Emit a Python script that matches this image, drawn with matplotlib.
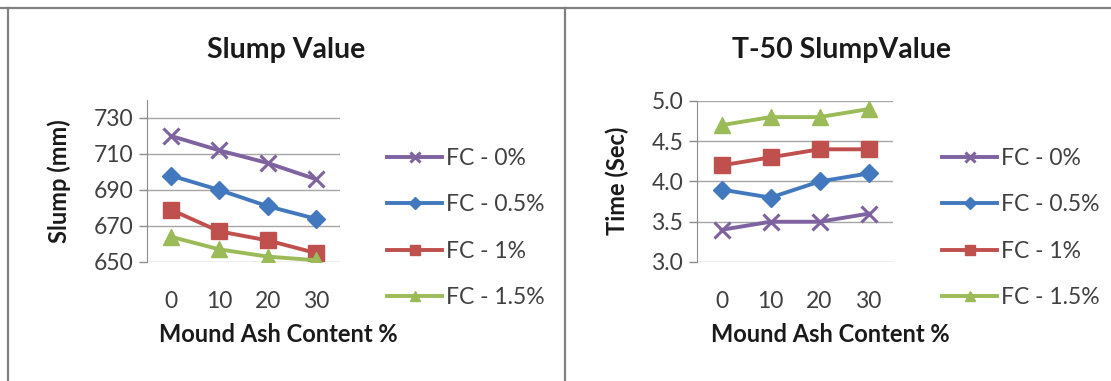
import matplotlib
matplotlib.use("Agg")
import matplotlib.pyplot as plt
from matplotlib.lines import Line2D

plt.rcParams["font.family"] = ["Lato", "DejaVu Sans"]

ash_content = ["0", "10", "20", "30"]
series_names = ["FC - 0%", "FC - 0.5%", "FC - 1%", "FC - 1.5%"]

slump_fc0 = [720, 712, 705, 696]
slump_fc05 = [698, 690, 681, 674]
slump_fc1 = [679, 667, 662, 655]
slump_fc15 = [664, 657, 653, 651]

t50_fc0 = [3.4, 3.5, 3.5, 3.6]
t50_fc05 = [3.9, 3.8, 4.0, 4.1]
t50_fc1 = [4.2, 4.3, 4.4, 4.4]
t50_fc15 = [4.7, 4.8, 4.8, 4.9]

colors = ["#7F63A1", "#4279BE", "#C0504D", "#9BBB59"]
markers = ["x", "D", "s", "^"]
msizes = [12, 9.5, 11, 11]

W, H = 1111, 381
fig = plt.figure(figsize=(W / 100, H / 100), dpi=100)


def fx(px):
    return px / W


def fy(py):
    return 1 - py / H


# panel frames
frame_col = "#808080"
fig.add_artist(Line2D([0, 1], [fy(8), fy(8)], color=frame_col, lw=1.6))
fig.add_artist(Line2D([fx(8), fx(8)], [0, fy(8)], color=frame_col, lw=1.6))
fig.add_artist(Line2D([fx(565), fx(565)], [0, fy(8)], color=frame_col, lw=1.6))


def draw_panel(rect, data, ylim, yticks, fmt, title, ylabel, title_x, xlab_x, ylab_x, leg_x):
    ax = fig.add_axes(rect)
    x = list(range(len(ash_content)))
    handles = []
    for vals, c, m, ms, name in zip(data, colors, markers, msizes, series_names):
        mew = 2.2 if m == "x" else 1
        (h,) = ax.plot(x, vals, color=c, lw=2.8, marker=m, markersize=ms,
                       markeredgewidth=mew, markeredgecolor=c, label=name)
        handles.append(h)
    ax.set_xlim(-0.5, len(x) - 0.5)
    ax.set_ylim(*ylim)
    ax.set_yticks(yticks)
    ax.set_yticklabels([fmt.format(v) for v in yticks])
    ax.set_xticks(x)
    ax.set_xticklabels(ash_content)
    ax.yaxis.grid(True, color="#A6A6A6", lw=1)
    ax.set_axisbelow(True)
    for s in ["top", "right", "bottom"]:
        ax.spines[s].set_visible(False)
    ax.spines["left"].set_color("#8C8C8C")
    ax.tick_params(axis="y", colors="#8C8C8C", length=6, width=1, labelsize=16.5,
                   labelcolor="#404040", pad=4)
    ax.tick_params(axis="x", length=0, labelsize=16.5, labelcolor="#404040", pad=21)

    fig.text(title_x, fy(50), title, ha="center", va="center",
             fontsize=20.5, fontweight="bold", color="#1A1A1A")
    fig.text(xlab_x, fy(335), "Mound Ash Content %", ha="center", va="center",
             fontsize=17, fontweight="bold", color="#1A1A1A")
    fig.text(ylab_x, fy(181), ylabel, ha="center", va="center", rotation=90,
             fontsize=17, fontweight="bold", color="#1A1A1A")

    fig.legend(handles=handles, loc="center left",
               bbox_to_anchor=(leg_x, fy(228)), frameon=False,
               fontsize=16.5, labelspacing=1.1, handlelength=2.4,
               handletextpad=0.15, markerscale=0.65, borderpad=0,
               labelcolor="#404040")
    return ax


draw_panel([fx(147), fy(262), fx(340 - 147), (262 - 100) / H],
           [slump_fc0, slump_fc05, slump_fc1, slump_fc15],
           (650, 740), [650, 670, 690, 710, 730], "{:d}",
           "Slump Value", "Slump (mm)", fx(286), fx(278), fx(59), fx(376))

draw_panel([fx(697), fy(262), fx(893 - 697), (262 - 101) / H],
           [t50_fc0, t50_fc05, t50_fc1, t50_fc15],
           (3.0, 5.0), [3.0, 3.5, 4.0, 4.5, 5.0], "{:.1f}",
           "T-50 SlumpValue", "Time (Sec)", fx(842), fx(830), fx(617), fx(931))

fig.savefig("out.png", dpi=100, facecolor="white")
